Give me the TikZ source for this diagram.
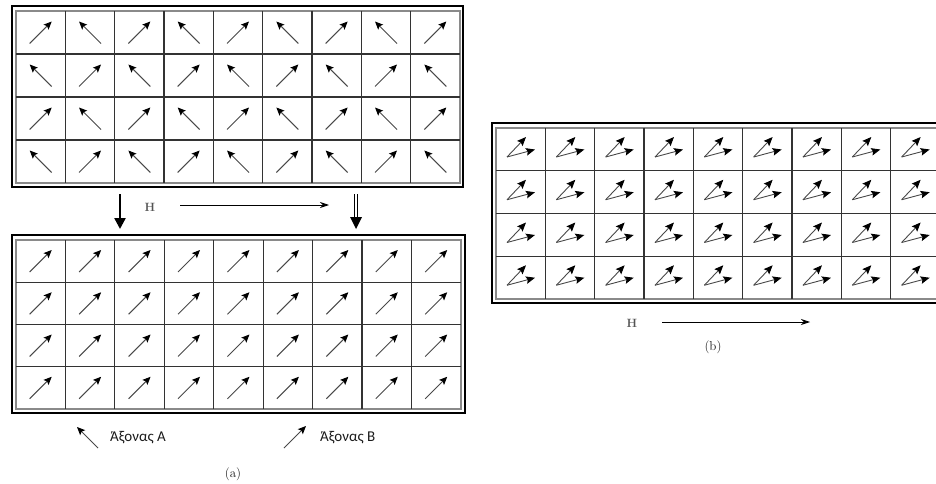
\documentclass[tikz,border=0pt]{standalone}
\usepackage{fontspec}
\newfontfamily\axisfont{Carlito}
\usepackage{tikz}
\usetikzlibrary{arrows.meta, positioning}
\definecolor{ink}{HTML}{1a1a1a}
\definecolor{gridline}{HTML}{333333}
\definecolor{rim}{HTML}{8a8a8a}

\begin{document}
\begin{tikzpicture}[x=1pt, y=-1pt,
  frame/.style={draw=black, line width=2.6pt},
  rimline/.style={draw=rim, line width=1.4pt},
  cellline/.style={draw=gridline, line width=1.2pt},
  spin/.style={draw=ink!80, line width=1pt, -{Stealth[length=8pt,width=7pt,inset=1.5pt,black]}},
  cant/.style={draw=ink!80, line width=0.9pt, -{Stealth[length=9pt,width=7.5pt,inset=1.5pt,black]}},
  fieldlbl/.style={font=\fontsize{12}{13}\selectfont\bfseries, text=ink!75},
  caption/.style={font=\fontsize{13}{14}\selectfont, text=ink},
  every node/.style={inner sep=0pt}]
  \useasboundingbox (0,0) rectangle (936,484);
  \clip (0,0) rectangle (936,484);

  % Grid (a), before the field: alternating spins
  \draw[frame] (12,6) rectangle (463,187);
  \draw[rimline] (16,11) rectangle (460,183);
  \foreach \i in {1,...,8}
    \draw[cellline] ({16+\i*49.33},11) -- ({16+\i*49.33},183);
  \foreach \j in {1,2,3}
    \draw[cellline] (16,{11+\j*43}) -- (460,{11+\j*43});
  \foreach \i in {0,...,8}
    \foreach \j in {0,...,3}{
      \pgfmathsetmacro{\cx}{40.7+\i*49.33}
      \pgfmathsetmacro{\cy}{32.5+\j*43}
      \pgfmathtruncatemacro{\odd}{mod(\i+\j,2)}
      \ifnum\odd=0
        \draw[spin] (\cx-11,\cy+11) -- (\cx+11,\cy-11);
      \else
        \draw[spin] (\cx+11,\cy+11) -- (\cx-11,\cy-11);
      \fi
    }

  % Field between the two grids
  \coordinate (dropA) at (120,194);
  \coordinate (dropAend) at (120,229);
  \draw[line width=2.4pt, -{Triangle[length=11pt,width=11pt]}] (dropA) -- (dropAend);
  \node[fieldlbl] (fieldA) at (150,207) {H};
  \coordinate (fieldAstart) at (180,205);
  \coordinate (fieldAend) at (329,205);
  \draw[line width=0.9pt, -{Stealth[length=9pt,width=6pt]}] (fieldAstart) -- (fieldAend);
  \coordinate (dropB) at (356,194);
  \coordinate (dropBend) at (356,229);
  \draw[line width=0.8pt, double distance=2.2pt] (dropB) -- ([yshift=11pt]dropBend);
  \fill[black] ([yshift=12pt, xshift=-6pt]dropBend) -- ([yshift=12pt, xshift=6pt]dropBend) -- (dropBend) -- cycle;

  % Grid (a), after the field: all spins along axis B
  \draw[frame] (12,235) rectangle (465,413);
  \draw[rimline] (16,240) rectangle (461,409);
  \foreach \i in {1,...,8}
    \draw[cellline] ({16+\i*49.44},240) -- ({16+\i*49.44},409);
  \foreach \j in {1,2,3}
    \draw[cellline] (16,{240+\j*42.25}) -- (461,{240+\j*42.25});
  \foreach \i in {0,...,8}
    \foreach \j in {0,...,3}{
      \pgfmathsetmacro{\cx}{40.7+\i*49.44}
      \pgfmathsetmacro{\cy}{261+\j*42.25}
      \draw[spin] (\cx-11,\cy+11) -- (\cx+11,\cy-11);
    }

  % Legend
  \coordinate (axisAtail) at (98,448);
  \coordinate (axisAtip) at (77,427);
  \draw[spin] (axisAtail) -- (axisAtip);
  \node[anchor=west, font=\axisfont\fontsize{15}{17}\selectfont, text=ink] (axisA) at (110,438) {Άξονας A};
  \coordinate (axisBtail) at (284,448);
  \coordinate (axisBtip) at (306,426);
  \draw[spin] (axisBtail) -- (axisBtip);
  \node[anchor=west, font=\axisfont\fontsize{15}{17}\selectfont, text=ink] (axisB) at (320,438) {Άξονας B};
  \node[caption] (capA) at (233,474) {(a)};

  % Grid (b): two sublattices canted towards H
  \draw[frame] (492,123) rectangle (950,303);
  \draw[rimline] (496,128) rectangle (945,299);
  \foreach \i in {1,...,8}
    \draw[cellline] ({496+\i*49.33},128) -- ({496+\i*49.33},299);
  \foreach \j in {1,2,3}
    \draw[cellline] (496,{128+\j*42.75}) -- (945,{128+\j*42.75});
  \foreach \i in {0,...,8}
    \foreach \j in {0,...,3}{
      \pgfmathsetmacro{\cx}{520+\i*49.33}
      \pgfmathsetmacro{\cy}{149.5+\j*42.75}
      \draw[cant] (\cx-13,\cy+7.5) -- (\cx+6,\cy-12.5);
      \draw[cant] (\cx-13,\cy+7.5) -- (\cx+15,\cy);
    }
  \node[fieldlbl] (fieldB) at (632,323) {H};
  \coordinate (fieldBstart) at (662,322);
  \coordinate (fieldBend) at (810,322);
  \draw[line width=0.9pt, -{Stealth[length=9pt,width=6pt]}] (fieldBstart) -- (fieldBend);
  \node[caption] (capB) at (713,347) {(b)};
\end{tikzpicture}
\end{document}
